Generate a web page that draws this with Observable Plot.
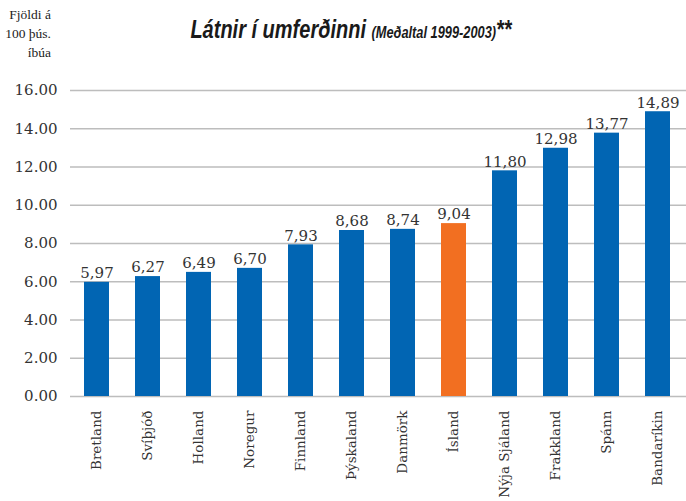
<!DOCTYPE html>
<html>
<head>
<meta charset="utf-8">
<script src="https://cdn.jsdelivr.net/npm/d3@7"></script>
<script src="https://cdn.jsdelivr.net/npm/@observablehq/plot@0.6"></script>
<style>
  html, body { margin: 0; padding: 0; background: #fff; }
  #wrap { position: relative; width: 686px; height: 501px; }
  #title { position: absolute; left: 351px; top: 15px; white-space: nowrap;
    transform: translateX(-50%) scaleX(0.8); transform-origin: center;
    font-family: "Liberation Sans", Arial, sans-serif;
    font-weight: bold; font-style: italic; color: #1a1a1a; font-size: 25px; }
  #title .sub { font-size: 16px; }
  #ylab { position: absolute; left: 0; width: 51px; top: 5px; text-align: right;
    font-family: "Liberation Serif", "DejaVu Serif", serif; font-size: 13.5px; line-height: 19px; color: #222; }
  svg text { font-family: "DejaVu Serif", serif; }
</style>
</head>
<body>
<div id="wrap">
  <div id="chart"></div>
  <div id="title">Látnir í umferðinni <span class="sub">(Meðaltal 1999-2003)</span>**</div>
  <div id="ylab">Fjöldi á<br>100 þús.<br>íbúa</div>
</div>
<script>
const countries = ["Bretland","Svíþjóð","Holland","Noregur","Finnland","Þýskaland","Danmörk","Ísland","Nýja Sjáland","Frakkland","Spánn","Bandaríkin"];
const values = [5.97, 6.27, 6.49, 6.70, 7.93, 8.68, 8.74, 9.04, 11.80, 12.98, 13.77, 14.89];
const highlight = "Ísland";
const yTicks = [0, 2, 4, 6, 8, 10, 12, 14, 16];

const data = countries.map((c, i) => ({country: c, value: values[i]}));
const comma = v => d3.format(".2f")(v).replace(".", ",");
const serif = "DejaVu Serif";

const chart = Plot.plot({
  width: 686,
  height: 501,
  marginTop: 90,
  marginBottom: 105,
  marginLeft: 68,
  marginRight: 0,
  style: {fontFamily: serif, fontSize: "15px", color: "#333", background: "transparent"},
  x: {domain: countries, paddingInner: 0.51, paddingOuter: 0.26, label: null},
  y: {domain: [0, 16], label: null},
  marks: [
    Plot.gridY(yTicks, {stroke: "#bdbdbd", strokeOpacity: 1, strokeWidth: 1.5, insetLeft: 2}),
    Plot.axisY(yTicks, {tickFormat: d3.format(".2f"), tickSize: 0, tickPadding: 11, fontSize: 15, fontFamily: serif, label: null}),
    Plot.barY(data, {x: "country", y: "value", fill: d => d.country === highlight ? "#f26f21" : "#0165b3"}),
    Plot.ruleY([0], {x1: 2, stroke: "#b0b0b0", strokeWidth: 2}),
    Plot.text(data, {x: "country", y: "value", text: d => comma(d.value), dy: -9, fontSize: 15, fontFamily: serif, fill: "#333"}),
    Plot.axisX({tickRotate: -90, tickSize: 0, tickPadding: 14, fontSize: 13.5, fontFamily: serif, label: null})
  ]
});
document.getElementById("chart").appendChild(chart);
</script>
</body>
</html>
